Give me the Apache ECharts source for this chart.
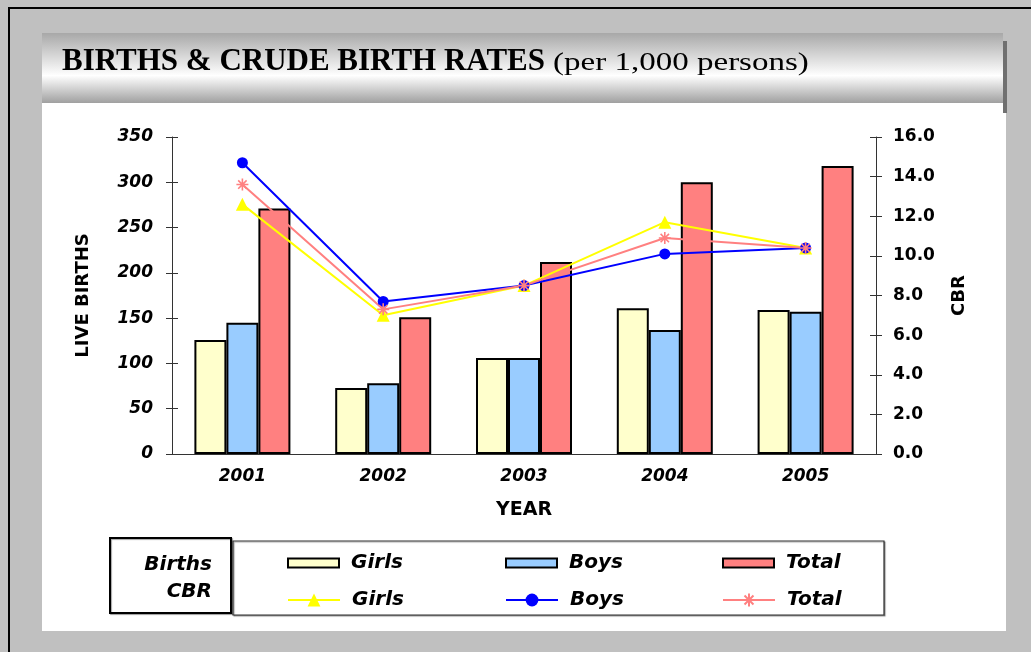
<!DOCTYPE html>
<html>
<head>
<meta charset="utf-8">
<title>Births & Crude Birth Rates</title>
<script src="https://cdn.jsdelivr.net/npm/echarts@6/dist/echarts.min.js"></script>
<style>
html, body { margin: 0; padding: 0; background: #c0c0c0; }
#container { width: 1031px; height: 652px; }
</style>
</head>
<body>
<div id="container"></div>
<script>
// data
var years = ['2001', '2002', '2003', '2004', '2005'];
var birthsGirls = [126, 73, 106, 161, 159];
var birthsBoys = [145, 78, 106, 137, 157];
var birthsTotal = [271, 151, 212, 300, 318];
var cbrGirls = [12.6, 7.0, 8.5, 11.7, 10.4];
var cbrBoys = [14.7, 7.7, 8.5, 10.1, 10.4];
var cbrTotal = [13.6, 7.3, 8.5, 10.9, 10.4];
var birthsTicks = [0, 50, 100, 150, 200, 250, 300, 350];
var cbrTicks = [0, 2, 4, 6, 8, 10, 12, 14, 16];

var FONT = 'DejaVu Sans';
var asterisk = 'path://M0,6L12,6M6,0L6,12M1.8,1.8L10.2,10.2M10.2,1.8L1.8,10.2';

var myChart = echarts.init(document.getElementById('container'));

function valueAxis(ticks, pos, withLabels) {
	var ax = {
		type: 'value',
		position: pos,
		min: ticks[0],
		max: ticks[ticks.length - 1],
		interval: ticks[1] - ticks[0],
		splitLine: { show: false },
		axisLine: { show: withLabels, lineStyle: { color: '#333', width: 1 } },
		axisTick: { show: true, inside: !withLabels, length: 6, lineStyle: { color: '#333' } },
		axisLabel: { show: withLabels }
	};
	return ax;
}

var leftAxis = valueAxis(birthsTicks, 'left', true);
leftAxis.axisLabel = {
	fontFamily: FONT, fontWeight: 'bold', fontStyle: 'italic', fontSize: 17,
	color: '#000', margin: 19
};
leftAxis.name = 'LIVE BIRTHS';
leftAxis.nameLocation = 'middle';
leftAxis.nameRotate = 90;
leftAxis.nameGap = 80;
leftAxis.nameTextStyle = { fontFamily: FONT, fontWeight: 'bold', fontSize: 18, color: '#000' };

var rightAxis = valueAxis(cbrTicks, 'right', true);
rightAxis.axisLabel = {
	fontFamily: FONT, fontWeight: 'bold', fontSize: 17, color: '#000', margin: 17,
	formatter: function (v) { return v.toFixed(1); }
};
rightAxis.name = 'CBR';
rightAxis.nameLocation = 'middle';
rightAxis.nameRotate = 90;
rightAxis.nameGap = 74;
rightAxis.nameTextStyle = { fontFamily: FONT, fontWeight: 'bold', fontSize: 18, color: '#000' };

// legend placement
var legendCols = [282, 500, 717];
var legendNames = ['Girls', 'Boys', 'Total'];
var legends = [];
legendNames.forEach(function (n, i) {
	legends.push({
		left: legendCols[i], top: 548, orient: 'horizontal',
		data: [{ name: n + ' births', icon: 'rect' }], itemWidth: 51, itemHeight: 9,
		formatter: function (name) { return name.split(' ')[0]; },
		textStyle: { fontFamily: FONT, fontWeight: 'bold', fontStyle: 'italic', fontSize: 20, color: '#000', padding: [0, 0, 0, 7] },
		selectedMode: false
	});
	legends.push({
		left: legendCols[i], top: 585, orient: 'horizontal',
		data: [n + ' cbr'], itemWidth: 52, itemHeight: 16,
		formatter: function (name) { return name.split(' ')[0]; },
		textStyle: { fontFamily: FONT, fontWeight: 'bold', fontStyle: 'italic', fontSize: 20, color: '#000', padding: [0, 0, 0, 7] },
		selectedMode: false
	});
});

function barSeries(name, data, color) {
	return {
		name: name, type: 'bar', data: data, yAxisIndex: 0,
		barWidth: 32, barGap: '0%',
		itemStyle: { color: color, borderColor: '#000', borderWidth: 2 }
	};
}

function lineSeries(name, data, color, symbol, size) {
	return {
		name: name, type: 'line', data: data, yAxisIndex: 1,
		symbol: symbol, symbolSize: size, showAllSymbol: true,
		lineStyle: { color: color, width: 2 },
		itemStyle: { color: color, borderColor: color, borderWidth: symbol === asterisk ? 1.6 : 0 }
	};
}

myChart.setOption({
	animation: false,
	backgroundColor: '#c0c0c0',
	grid: { left: 172, right: 155, top: 137, bottom: 198, outerBoundsMode: 'none' },
	legend: legends,
	xAxis: [{
		type: 'category', data: years,
		axisLine: { lineStyle: { color: '#333', width: 1 } },
		axisTick: { length: 5, lineStyle: { color: '#333' } },
		axisLabel: { fontFamily: FONT, fontWeight: 'bold', fontStyle: 'italic', fontSize: 17, color: '#000', margin: 14 },
		name: 'YEAR', nameLocation: 'middle', nameGap: 47,
		nameTextStyle: { fontFamily: FONT, fontWeight: 'bold', fontSize: 19, color: '#000' }
	}, {
		type: 'category', data: years, position: 'bottom',
		axisLine: { show: false },
		axisTick: { inside: true, length: 4, lineStyle: { color: '#333' } },
		axisLabel: { show: false }
	}],
	yAxis: [leftAxis, rightAxis, valueAxis(birthsTicks, 'left', false), valueAxis(cbrTicks, 'right', false)],
	graphic: [
		// frame lines
		{ type: 'rect', shape: { x: 9, y: 8, width: 1030, height: 660 }, style: { fill: 'none', stroke: '#000', lineWidth: 2 }, silent: true },
		// title band
		{ type: 'rect', shape: { x: 42, y: 33, width: 961, height: 71 }, silent: true,
			style: { fill: new echarts.graphic.LinearGradient(0, 0, 0, 1, [
				{ offset: 0, color: '#a8a8a8' }, { offset: 0.6, color: '#ffffff' }, { offset: 1, color: '#9c9c9c' }
			]) } },
		{ type: 'rect', shape: { x: 1003, y: 41, width: 4, height: 72 }, style: { fill: '#707070' }, silent: true },
		// white chart panel
		{ type: 'rect', shape: { x: 42, y: 103, width: 964, height: 528 }, style: { fill: '#fff' }, silent: true },
		{ type: 'rect', shape: { x: 1003, y: 103, width: 3, height: 10 }, style: { fill: '#707070' }, silent: true },
		// title
		{ type: 'text', x: 62, y: 62, silent: true,
			style: { text: 'BIRTHS & CRUDE BIRTH RATES', verticalAlign: 'middle',
				fontFamily: 'Liberation Serif', fontWeight: 'bold', fontSize: 31, fill: '#000' } },
		{ type: 'text', x: 553, y: 63.5, scaleX: 1.27, silent: true,
			style: { text: '(per 1,000 persons)', verticalAlign: 'middle',
				fontFamily: 'Liberation Serif', fontSize: 26, fill: '#000' } },
		// legend boxes
		{ type: 'rect', shape: { x: 233, y: 541, width: 651, height: 74 }, silent: true,
			style: { fill: '#fff', stroke: '#333', lineWidth: 1.2, shadowColor: 'rgba(0,0,0,0.35)', shadowOffsetX: 1, shadowOffsetY: 1, shadowBlur: 1 } },
		{ type: 'rect', shape: { x: 110, y: 538, width: 121, height: 75 }, silent: true,
			style: { fill: '#fff', stroke: '#000', lineWidth: 2, shadowColor: 'rgba(0,0,0,0.35)', shadowOffsetX: 1, shadowOffsetY: 1, shadowBlur: 1 } },
		{ type: 'text', x: 212, y: 565, silent: true,
			style: { text: 'Births', align: 'right', verticalAlign: 'middle', fontFamily: FONT, fontWeight: 'bold', fontStyle: 'italic', fontSize: 20, fill: '#000' } },
		{ type: 'text', x: 212, y: 592, silent: true,
			style: { text: 'CBR', align: 'right', verticalAlign: 'middle', fontFamily: FONT, fontWeight: 'bold', fontStyle: 'italic', fontSize: 20, fill: '#000' } }
	],
	series: [
		barSeries('Girls births', birthsGirls, '#FFFFCC'),
		barSeries('Boys births', birthsBoys, '#99CCFF'),
		barSeries('Total births', birthsTotal, '#FF8080'),
		lineSeries('Girls cbr', cbrGirls, '#FFFF00', 'triangle', 13),
		lineSeries('Boys cbr', cbrBoys, '#0000FF', 'circle', 11),
		lineSeries('Total cbr', cbrTotal, '#FF8080', asterisk, 12)
	]
});
</script>
</body>
</html>
